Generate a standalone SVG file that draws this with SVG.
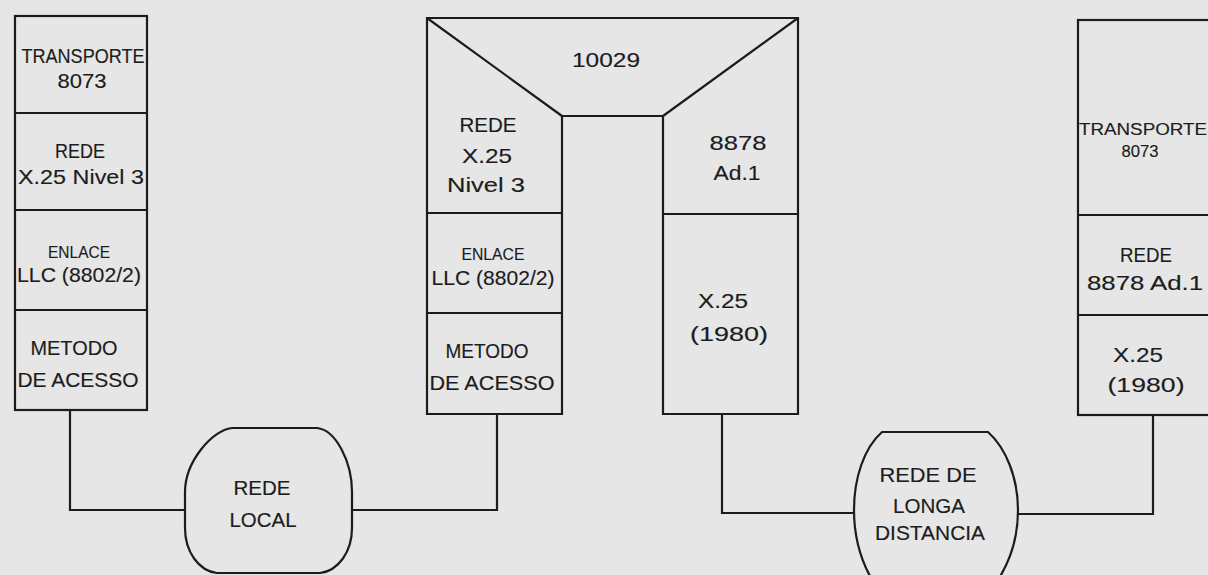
<svg xmlns="http://www.w3.org/2000/svg" width="1208" height="575" viewBox="0 0 1208 575">
<style>
.ln{fill:none;stroke:#1c1c1c;stroke-width:2.2;stroke-linejoin:miter}
.t{font-family:"Liberation Sans",Arial,sans-serif;font-size:21px;fill:#1c1c1c;stroke:#1c1c1c;stroke-width:0.15;text-anchor:middle}
.s{font-size:17px}
</style>
<rect width="1208" height="575" fill="#e6e6e6"/>
<g id="connectors" class="ln">
<path d="M70 410 V510 H185"/>
<path d="M352 510 H497 V414"/>
<path d="M722 414 V513 H854"/>
<path d="M1018 514 H1153 V415"/>
</g>
<g id="stack-left">
<rect class="ln" x="15" y="16" width="132" height="394"/>
<path class="ln" d="M15 113 H147 M15 210 H147 M15 310 H147"/>
<text class="t" x="83" y="63" textLength="123" lengthAdjust="spacingAndGlyphs">TRANSPORTE</text>
<text class="t" x="82" y="88" textLength="49" lengthAdjust="spacingAndGlyphs">8073</text>
<text class="t" x="80" y="158" textLength="50" lengthAdjust="spacingAndGlyphs">REDE</text>
<text class="t" x="81" y="184" textLength="126" lengthAdjust="spacingAndGlyphs">X.25 Nivel 3</text>
<text class="t s" x="79" y="258" textLength="62" lengthAdjust="spacingAndGlyphs">ENLACE</text>
<text class="t" x="79" y="282" textLength="124" lengthAdjust="spacingAndGlyphs">LLC (8802/2)</text>
<text class="t" x="74" y="355" textLength="87" lengthAdjust="spacingAndGlyphs">METODO</text>
<text class="t" x="78" y="387" textLength="121" lengthAdjust="spacingAndGlyphs">DE ACESSO</text>
</g>
<g id="router-10029">
<path class="ln" d="M427 18 H798 V414 H663 V116 H562 V414 H427 Z"/>
<path class="ln" d="M427 18 L562 116 M798 18 L663 116 M427 213 H562 M427 313 H562 M663 214 H798"/>
<text class="t" x="606" y="67" textLength="68" lengthAdjust="spacingAndGlyphs">10029</text>
<text class="t" x="488" y="132" textLength="57" lengthAdjust="spacingAndGlyphs">REDE</text>
<text class="t" x="487" y="163" textLength="50" lengthAdjust="spacingAndGlyphs">X.25</text>
<text class="t" x="486" y="192" textLength="78" lengthAdjust="spacingAndGlyphs">Nivel 3</text>
<text class="t" x="738" y="150" textLength="57" lengthAdjust="spacingAndGlyphs">8878</text>
<text class="t" x="737" y="180" textLength="47" lengthAdjust="spacingAndGlyphs">Ad.1</text>
<text class="t s" x="493" y="260" textLength="63" lengthAdjust="spacingAndGlyphs">ENLACE</text>
<text class="t" x="493" y="285" textLength="123" lengthAdjust="spacingAndGlyphs">LLC (8802/2)</text>
<text class="t" x="487" y="358" textLength="83" lengthAdjust="spacingAndGlyphs">METODO</text>
<text class="t" x="492" y="390" textLength="125" lengthAdjust="spacingAndGlyphs">DE ACESSO</text>
<text class="t" x="723" y="308" textLength="50" lengthAdjust="spacingAndGlyphs">X.25</text>
<text class="t" x="729" y="341" textLength="78" lengthAdjust="spacingAndGlyphs">(1980)</text>
</g>
<g id="stack-right">
<rect class="ln" x="1078" y="20" width="150" height="395"/>
<path class="ln" d="M1078 215 H1228 M1078 315 H1228"/>
<text class="t s" x="1143" y="135" textLength="128" lengthAdjust="spacingAndGlyphs">TRANSPORTE</text>
<text class="t s" x="1140" y="157" textLength="37" lengthAdjust="spacingAndGlyphs">8073</text>
<text class="t" x="1146" y="262" textLength="52" lengthAdjust="spacingAndGlyphs">REDE</text>
<text class="t" x="1145" y="290" textLength="116" lengthAdjust="spacingAndGlyphs">8878 Ad.1</text>
<text class="t" x="1138" y="362" textLength="50" lengthAdjust="spacingAndGlyphs">X.25</text>
<text class="t" x="1146" y="392" textLength="77" lengthAdjust="spacingAndGlyphs">(1980)</text>
</g>
<g id="rede-local">
<path class="ln" d="M232 428 H317 C336 430 352 462 352 492 V528 C352 552 338 571 320 573 H217 C199 571 185 552 185 528 V492 C185 462 212 430 232 428 Z"/>
<text class="t" x="262" y="495" textLength="57" lengthAdjust="spacingAndGlyphs">REDE</text>
<text class="t" x="263" y="527" textLength="67" lengthAdjust="spacingAndGlyphs">LOCAL</text>
</g>
<g id="rede-longa-distancia">
<path class="ln" d="M882 432 H988 C1006 448 1018 478 1018 510 C1018 545 1006 570 990 592 H880 C864 570 854 545 854 510 C854 478 864 448 882 432 Z"/>
<text class="t" x="928" y="482" textLength="97" lengthAdjust="spacingAndGlyphs">REDE DE</text>
<text class="t" x="929" y="513" textLength="72" lengthAdjust="spacingAndGlyphs">LONGA</text>
<text class="t" x="930" y="540" textLength="110" lengthAdjust="spacingAndGlyphs">DISTANCIA</text>
</g>
</svg>
